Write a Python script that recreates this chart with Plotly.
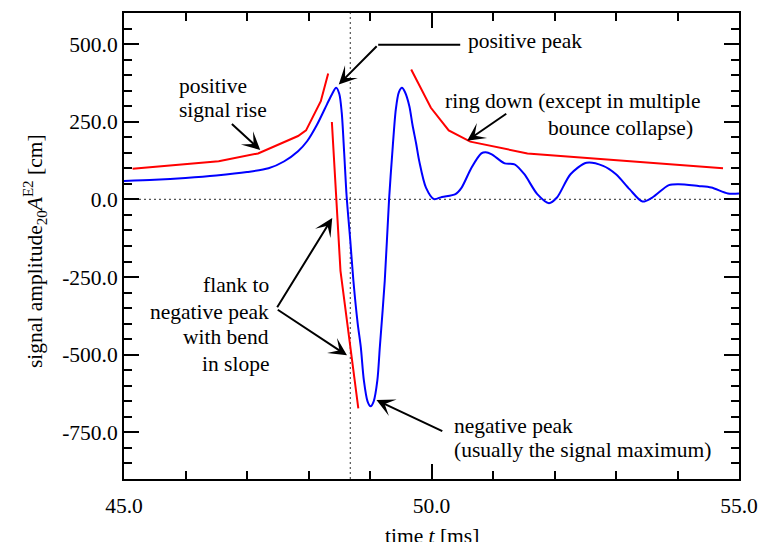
import plotly.graph_objects as go

# ---------------- data ----------------
signal_t = [45.0, 45.5, 46.0, 46.5, 47.0, 47.35, 47.6, 47.83, 47.98, 48.14, 48.30, 48.38,
            48.45, 48.50, 48.54, 48.58, 48.62, 48.68, 48.73, 48.80, 48.85, 48.90, 48.96,
            49.01, 49.06, 49.12, 49.16, 49.24, 49.31, 49.37, 49.42, 49.47, 49.52, 49.57,
            49.64, 49.69, 49.75, 49.80, 49.91, 50.04, 50.17, 50.39, 50.49, 50.65, 50.81,
            50.88, 50.98, 51.19, 51.35, 51.51, 51.72, 51.91, 52.04, 52.26, 52.52, 52.79,
            53.00, 53.22, 53.43, 53.59, 53.86, 54.02, 54.34, 54.55, 54.82, 55.0]
signal_a = [59, 63, 69, 77, 88, 100, 122, 155, 188, 241, 306, 338,
            359, 340, 280, 150, 10, -134, -262, -400, -475, -582, -650,
            -666, -650, -582, -475, -262, 0, 170, 290, 345, 359, 345,
            300, 241, 180, 124, 38, 1, 8, 17, 38, 102, 148,
            152, 145, 116, 113, 81, 17, -12, 6, 81, 118, 108,
            81, 33, -7, 6, 46, 49, 43, 38, 19, 19]

rise_t = [45.14, 46.54, 47.18, 47.83, 47.96, 48.20, 48.32]
rise_a = [99, 123, 148, 204, 222, 316, 405]

flank_t = [48.38, 48.52, 48.81]
flank_a = [249, -230, -673]

ringdown_t = [49.67, 49.99, 50.28, 50.63, 51.56, 53.16, 54.74]
ringdown_a = [418, 295, 222, 186, 148, 124, 100]

zero_level = 0.0
bounce_time = 48.68

x_range = [45.0, 55.0]
y_range = [-900.0, 600.0]

x_tickvals = [45.0, 50.0, 55.0]
x_ticktext = ["45.0", "50.0", "55.0"]
y_tickvals = [-750.0, -500.0, -250.0, 0.0, 250.0, 500.0]
y_ticktext = ["-750.0", "-500.0", "-250.0", "0.0", "250.0", "500.0"]

FONT = "Liberation Serif"
FS = 21.5

fig = go.Figure()

for tt, aa in [(rise_t, rise_a), (flank_t, flank_a), (ringdown_t, ringdown_a)]:
    fig.add_trace(go.Scatter(x=tt, y=aa, mode="lines",
                             line=dict(color="#ff0000", width=2), showlegend=False))

fig.add_trace(go.Scatter(x=signal_t, y=signal_a, mode="lines",
                         line=dict(color="#0000ff", width=2, shape="spline", smoothing=0.8),
                         showlegend=False))

# dotted reference lines
fig.add_shape(type="line", xref="x", yref="y", x0=x_range[0], x1=x_range[1],
              y0=zero_level, y1=zero_level, line=dict(color="#555", width=1.2, dash="2px,3px"),
              layer="below")
fig.add_shape(type="line", xref="x", yref="paper", x0=bounce_time, x1=bounce_time,
              y0=0, y1=1, line=dict(color="#555", width=1.2, dash="2px,3px"), layer="below")

# leader line for "positive peak"
fig.add_shape(type="line", xref="x", yref="y", x0=49.133, x1=50.467, y0=498, y1=498,
              line=dict(color="black", width=2))


def label(x, y, text, xanchor="left"):
    fig.add_annotation(x=x, y=y, xref="x", yref="y", text=text, showarrow=False,
                       xanchor=xanchor, yanchor="middle", borderpad=0,
                       font=dict(family=FONT, size=FS, color="black"))


def arrow(tail, tip):
    fig.add_annotation(x=tip[0], y=tip[1], ax=tail[0], ay=tail[1], xref="x", yref="y",
                       axref="x", ayref="y", text="", showarrow=True, arrowhead=3,
                       arrowsize=1.5, arrowwidth=2, arrowcolor="black", standoff=0)


label(50.584, 511, "positive peak")
arrow((49.133, 498), (48.492, 370))

label(45.875, 364, "positive")
label(45.875, 288, "signal rise")
arrow((46.73, 247), (47.215, 159))

label(50.21, 316, "ring down (except in multiple")
label(51.88, 230, "bounce collapse)")
arrow((51.24, 279), (50.58, 189))

label(47.37, -274, "flank to", "right")
label(47.37, -363, "negative peak", "right")
label(47.37, -443, "with bend", "right")
label(47.37, -529, "in slope", "right")
arrow((47.476, -352), (48.386, -60))
arrow((47.476, -352), (48.626, -502))

label(50.344, -730, "negative peak")
label(50.344, -807, "(usually the signal maximum)")
arrow((50.20, -748), (49.105, -646))

# axis titles
fig.add_annotation(xref="paper", yref="paper", x=0.5, y=0, yanchor="middle", yshift=-57,
                   text="time <i>t</i> [ms]", showarrow=False,
                   font=dict(family=FONT, size=FS, color="black"))
fig.add_annotation(xref="paper", yref="paper", x=0, y=0.5, xshift=-89, yshift=-5,
                   textangle=-90, xanchor="center", yanchor="middle",
                   text="signal amplitude<sub>20</sub><i>A</i><sup>E2</sup> [cm]",
                   showarrow=False, font=dict(family=FONT, size=FS, color="black"))

axis_common = dict(showline=True, linewidth=2, linecolor="black", mirror="ticks",
                   ticks="inside", tickwidth=2, ticklen=15, tickcolor="black",
                   showgrid=False, zeroline=False, tickmode="array",
                   tickfont=dict(family=FONT, size=FS, color="black"))

fig.update_xaxes(range=x_range, tickvals=x_tickvals, ticktext=x_ticktext, ticklabelstandoff=6,
                 minor=dict(ticks="inside", dtick=1, tick0=45, ticklen=8, tickwidth=1.5,
                            tickcolor="black", showgrid=False),
                 **axis_common)
fig.update_yaxes(range=y_range, tickvals=y_tickvals, ticktext=y_ticktext,
                 minor=dict(ticks="inside", dtick=50, tick0=0, ticklen=8, tickwidth=1.5,
                            tickcolor="black", showgrid=False),
                 **axis_common)

fig.update_layout(width=769, height=542, margin=dict(l=124, r=21, t=11, b=63, pad=0),
                  paper_bgcolor="white", plot_bgcolor="white",
                  font=dict(family=FONT, size=FS, color="black"), showlegend=False)

fig.write_html("out.html")
